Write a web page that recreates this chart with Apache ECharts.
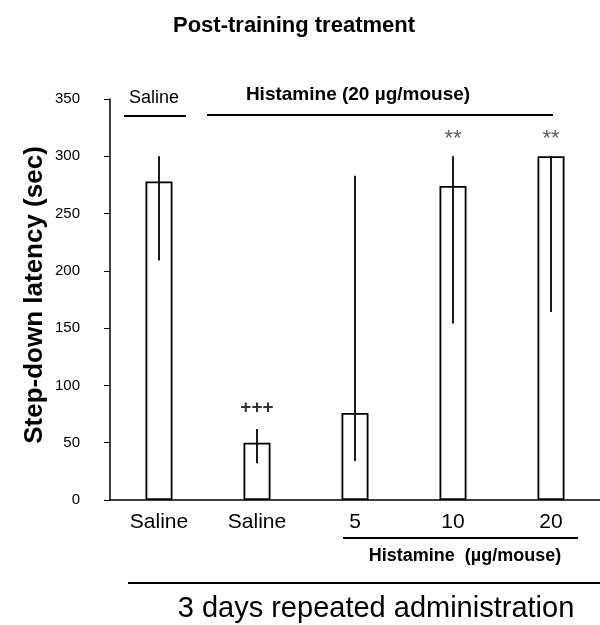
<!DOCTYPE html>
<html>
<head>
<meta charset="utf-8">
<script src="https://cdn.jsdelivr.net/npm/echarts@6/dist/echarts.min.js"></script>
<style>
  html, body { margin: 0; padding: 0; background: #fff; }
  #chart { width: 600px; height: 625px; }
</style>
</head>
<body>
<div id="chart"></div>
<script>
// data
const categories = ['Saline', 'Saline', '5', '10', '20'];
const means      = [278, 50, 76, 274, 300];
const errLow     = [209, 32, 34, 154, 164];
const errHigh    = [300, 62, 283, 300, 300];
const sigMarks   = ['', '+++', '', '**', '**'];
const yTicks     = [0, 50, 100, 150, 200, 250, 300, 350];

const FONT = '"Liberation Sans", Arial, sans-serif';

const chart = echarts.init(document.getElementById('chart'));

// small helpers for the annotation lines/texts
const hline = (x1, x2, y, w) => ({
  type: 'line', shape: { x1, y1: y, x2, y2: y },
  style: { stroke: '#000', lineWidth: w || 2 }
});
const label = (text, x, y, size, weight, extra) => ({
  type: 'text', x, y, ...(extra || {}),
  style: {
    text, fill: '#000', font: `${weight} ${size}px ${FONT}`,
    textAlign: 'center', textVerticalAlign: 'middle'
  }
});

chart.setOption({
  animation: false,
  backgroundColor: '#fff',
  textStyle: { fontFamily: FONT },
  title: {
    text: 'Post-training treatment',
    left: 168, top: 10,
    textStyle: { fontSize: 22, fontWeight: 'bold', color: '#000', fontFamily: FONT }
  },
  grid: { left: 110, top: 99, width: 490, height: 401, containLabel: false },
  xAxis: {
    type: 'category',
    data: categories,
    axisLine: { lineStyle: { color: '#000', width: 1.5 } },
    axisTick: { show: false },
    axisLabel: { color: '#000', fontSize: 21, margin: 12, fontFamily: FONT }
  },
  yAxis: {
    type: 'value',
    min: 0, max: 350, interval: 50,
    axisLine: { show: true, lineStyle: { color: '#000', width: 1.5 } },
    axisTick: { show: true, length: 6, lineStyle: { color: '#000' } },
    axisLabel: {
      color: '#000', fontSize: 15, margin: 30, fontFamily: FONT,
      formatter: v => yTicks.includes(v) ? String(v) : ''
    },
    splitLine: { show: false }
  },
  series: [
    {
      type: 'bar',
      data: means,
      barWidth: 27,
      itemStyle: { color: '#fff', borderColor: '#000', borderWidth: 1.8 },
      z: 2
    },
    {
      type: 'custom',
      data: categories.map((c, i) => [i, errLow[i], errHigh[i]]),
      renderItem: (params, api) => {
        const lo = api.coord([api.value(0), api.value(1)]);
        const hi = api.coord([api.value(0), api.value(2)]);
        return {
          type: 'line',
          shape: { x1: lo[0], y1: lo[1], x2: hi[0], y2: hi[1] },
          style: { stroke: '#000', lineWidth: 1.8 }
        };
      },
      z: 3
    },
    {
      type: 'scatter',
      symbolSize: 0,
      silent: true,
      data: errHigh.map((v, i) => ({
        value: [i, v],
        label: {
          show: sigMarks[i] !== '',
          formatter: sigMarks[i],
          position: 'top',
          distance: sigMarks[i] === '+++' ? 12 : 6,
          color: sigMarks[i] === '+++' ? '#000' : '#333',
          fontSize: sigMarks[i] === '+++' ? 19 : 22,
          fontWeight: sigMarks[i] === '+++' ? 'bold' : 'normal',
          fontFamily: FONT
        }
      })),
      z: 4
    }
  ],
  graphic: [
    // y axis title
    label('Step-down latency (sec)', 35, 295, 26, 'bold', { rotation: Math.PI / 2 }),
    // top group labels
    label('Saline', 154, 98, 18, 'normal'),
    hline(124, 186, 116, 2),
    label('Histamine (20 \u00b5g/mouse)', 358, 95, 19, 'bold'),
    hline(207, 553, 115, 2),
    // bottom group labels
    hline(343, 578, 538, 2),
    label('Histamine  (\u00b5g/mouse)', 465, 556, 18, 'bold'),
    hline(128, 600, 583, 2),
    label('3 days repeated administration', 376, 609, 29, 'normal')
  ]
});
</script>
</body>
</html>
